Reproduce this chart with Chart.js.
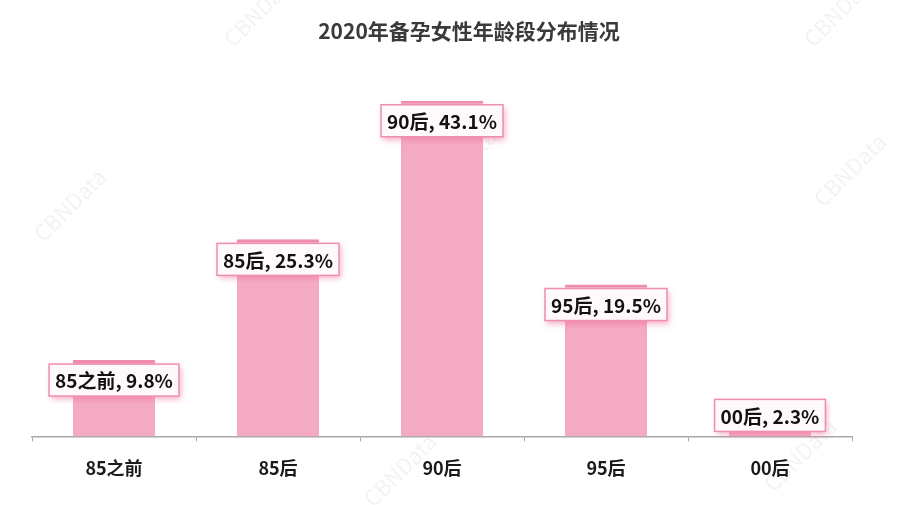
<!DOCTYPE html>
<html>
<head>
<meta charset="utf-8">
<script src="https://cdn.jsdelivr.net/npm/chart.js@4.4.1/dist/chart.umd.min.js"></script>
<style>
    html, body { margin: 0; padding: 0; background: #ffffff; }
    #wrap { width: 898px; height: 505px; position: relative; }
</style>
</head>
<body>
<div id="wrap"><canvas id="chartEdad" width="898" height="505"></canvas></div>
<script>
const titulo = '2020年备孕女性年龄段分布情况';
const categorias = ['85之前', '85后', '90后', '95后', '00后'];
const valores = [9.8, 25.3, 43.1, 19.5, 2.3];

const FONT = '"Noto Sans CJK SC", "Noto Sans", sans-serif';

function formatPercent(value) {
    return value.toFixed(1) + '%';
}

// title centred a bit right of the plot, like the source
const tituloPlugin = {
    id: 'tituloPlugin',
    afterDraw(chart) {
        const ctx = chart.ctx;
        ctx.save();
        ctx.font = 'bold 21px ' + FONT;
        ctx.fillStyle = '#3a3a3a';
        ctx.textAlign = 'center';
        ctx.textBaseline = 'middle';
        ctx.fillText(titulo, 469, 31);
        ctx.restore();
    }
};

// boxed labels "cat, value%" hanging on each bar top
const etiquetasPlugin = {
    id: 'etiquetasPlugin',
    afterDatasetsDraw(chart) {
        const ctx = chart.ctx;
        const meta = chart.getDatasetMeta(0);
        ctx.save();
        ctx.font = 'bold 19px ' + FONT;
        meta.data.forEach((bar, i) => {
            const texto = categorias[i] + ', ' + formatPercent(valores[i]);
            const w = ctx.measureText(texto).width + 12;
            const h = 32;
            const cy = Math.min(bar.y + 20, bar.base - 21);
            const x0 = bar.x - w / 2;
            const y0 = cy - h / 2;

            ctx.shadowColor = 'rgba(236, 110, 150, 0.55)';
            ctx.shadowBlur = 6;
            ctx.shadowOffsetX = 2;
            ctx.shadowOffsetY = 3;
            ctx.fillStyle = '#fff9fb';
            ctx.fillRect(x0, y0, w, h);
            ctx.shadowColor = 'transparent';

            ctx.strokeStyle = '#ee8fae';
            ctx.lineWidth = 1.5;
            ctx.strokeRect(x0, y0, w, h);

            ctx.fillStyle = '#111111';
            ctx.textAlign = 'center';
            ctx.textBaseline = 'middle';
            ctx.fillText(texto, bar.x, cy + 1);
        });
        ctx.restore();
    }
};

// faint watermark
const marcaPlugin = {
    id: 'marcaPlugin',
    beforeDraw(chart) {
        const ctx = chart.ctx;
        const pos = [[70, 205], [460, 165], [850, 170], [260, 10], [840, 10], [400, 470], [800, 455]];
        ctx.save();
        ctx.font = '22px ' + FONT;
        ctx.fillStyle = 'rgba(0, 0, 0, 0.05)';
        ctx.textAlign = 'center';
        ctx.textBaseline = 'middle';
        for (let p of pos) {
            ctx.save();
            ctx.translate(p[0], p[1]);
            ctx.rotate(-Math.PI / 4);
            ctx.fillText('CBNData', 0, 0);
            ctx.restore();
        }
        ctx.restore();
    }
};

new Chart(document.getElementById('chartEdad'), {
    type: 'bar',
    data: {
        labels: categorias,
        datasets: [{
            data: valores,
            backgroundColor: '#f5aac3',
            borderColor: '#f08dae',
            borderWidth: { top: 3, left: 0, right: 0, bottom: 0 },
            borderSkipped: 'start',
            categoryPercentage: 1.0,
            barPercentage: 0.5
        }]
    },
    options: {
        responsive: false,
        animation: false,
        devicePixelRatio: 1,
        layout: { padding: { left: 32, right: 46, top: 47, bottom: 10 } },
        plugins: {
            legend: { display: false },
            tooltip: { enabled: false }
        },
        scales: {
            y: {
                display: false,
                min: 0,
                max: 50
            },
            x: {
                offset: true,
                grid: {
                    offset: true,
                    drawOnChartArea: false,
                    drawTicks: true,
                    tickLength: 5,
                    color: '#a8a8a8'
                },
                border: { color: '#a8a8a8', width: 1.5 },
                ticks: {
                    color: '#1a1a1a',
                    padding: 16,
                    font: { family: FONT, size: 18, weight: 'bold' }
                }
            }
        }
    },
    plugins: [marcaPlugin, tituloPlugin, etiquetasPlugin]
});
</script>
</body>
</html>
